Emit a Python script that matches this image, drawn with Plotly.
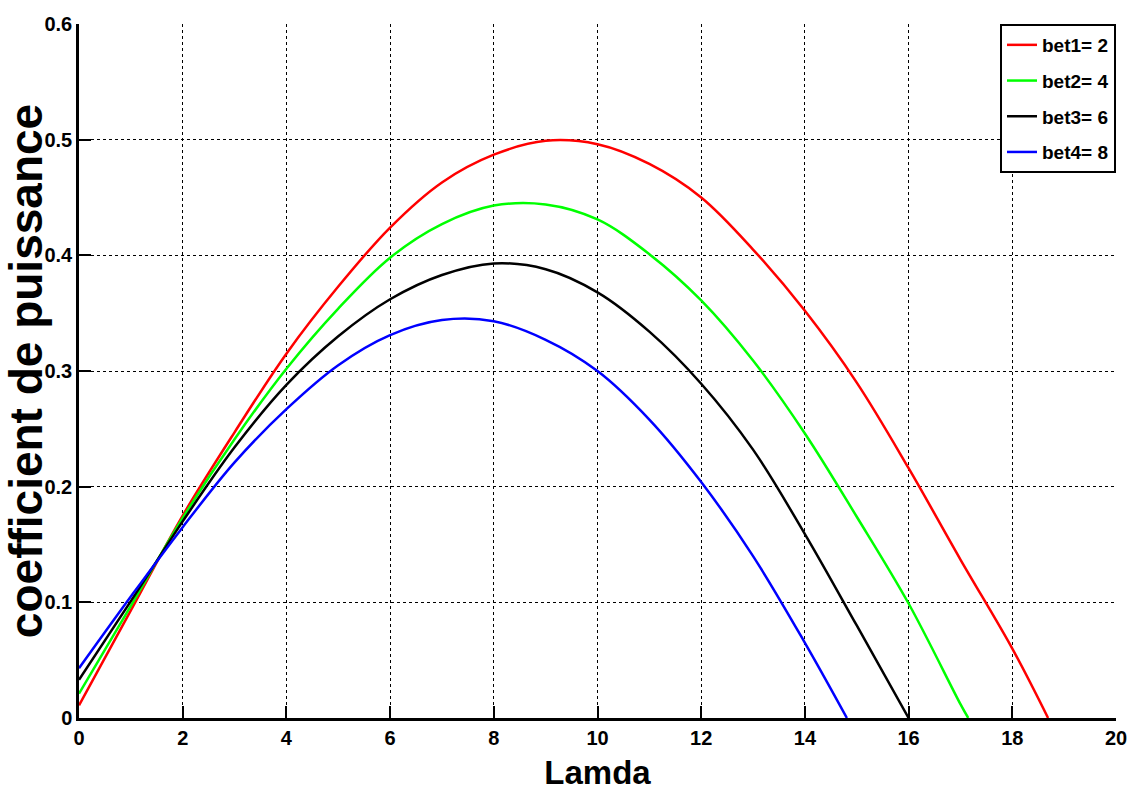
import plotly.graph_objects as go

lam_red = [0, 1, 2, 3, 4, 5, 6, 7, 8, 9, 10, 11, 12, 13, 14, 15, 16, 17, 18, 18.69]
cp_red = [0.011, 0.093, 0.175, 0.247, 0.315, 0.373, 0.424, 0.463, 0.487, 0.499, 0.496,
          0.479, 0.450, 0.405, 0.352, 0.290, 0.216, 0.137, 0.060, 0.0]

lam_green = [0, 1, 2, 3, 4, 5, 6, 7, 8, 9, 10, 11, 12, 13, 14, 15, 16, 17, 17.15]
cp_green = [0.021, 0.097, 0.173, 0.241, 0.302, 0.354, 0.398, 0.427, 0.443, 0.444, 0.431,
            0.401, 0.361, 0.309, 0.246, 0.174, 0.099, 0.012, 0.0]

lam_black = [0, 1, 2, 3, 4, 5, 6, 7, 8, 9, 10, 11, 12, 13, 14, 15, 16]
cp_black = [0.033, 0.101, 0.170, 0.234, 0.288, 0.330, 0.362, 0.383, 0.393, 0.388, 0.368,
            0.334, 0.289, 0.232, 0.159, 0.080, 0.0]

lam_blue = [0, 1, 2, 3, 4, 5, 6, 7, 8, 9, 10, 11, 12, 13, 14, 14.81]
cp_blue = [0.043, 0.105, 0.165, 0.221, 0.267, 0.305, 0.331, 0.344, 0.343, 0.327, 0.300,
           0.258, 0.204, 0.140, 0.065, 0.0]

names = ["bet1= 2", "bet2= 4", "bet3= 6", "bet4= 8"]
colors = ["#ff0000", "#00ff00", "#000000", "#0000ff"]
xs = [lam_red, lam_green, lam_black, lam_blue]
ys = [cp_red, cp_green, cp_black, cp_blue]

x_ticks = [0, 2, 4, 6, 8, 10, 12, 14, 16, 18, 20]
y_ticks = [0, 0.1, 0.2, 0.3, 0.4, 0.5, 0.6]
y_tick_text = ["0", "0.1", "0.2", "0.3", "0.4", "0.5", "0.6"]

fig = go.Figure()
for i, (x, y, n, c) in enumerate(zip(xs, ys, names, colors)):
    fig.add_trace(go.Scatter(x=x, y=y, mode="lines", name=n, legendgroup=f"g{i}",
                             line=dict(color=c, width=2.5, shape="spline", smoothing=1.0)))

font_family = "Liberation Sans, Arial, sans-serif"
fig.update_layout(
    width=1128, height=796,
    margin=dict(l=79, r=12, t=24, b=78),
    paper_bgcolor="white", plot_bgcolor="white",
    font=dict(family=font_family, color="black"),
    showlegend=True,
    legend=dict(x=1, xanchor="right", y=1, yanchor="top",
                bgcolor="white", bordercolor="black", borderwidth=2,
                font=dict(size=19, family=font_family, weight="bold", color="black"),
                tracegroupgap=8),
)
fig.update_xaxes(
    range=[0, 20], tickvals=x_ticks, ticktext=[str(v) for v in x_ticks],
    automargin=False,
    showgrid=True, gridcolor="black", griddash="3px,3px", gridwidth=1,
    showline=True, linecolor="black", linewidth=2.5,
    ticks="inside", ticklen=12, tickwidth=2, tickcolor="black",
    tickfont=dict(size=20, family=font_family, weight="bold"),
    zeroline=False,
    title=dict(text="Lamda", font=dict(size=33, family=font_family, weight="bold"), standoff=14),
)
fig.update_yaxes(
    range=[0, 0.6], tickvals=y_ticks, ticktext=y_tick_text,
    automargin=False,
    showgrid=True, gridcolor="black", griddash="3px,3px", gridwidth=1,
    showline=True, linecolor="black", linewidth=2.5,
    ticks="inside", ticklen=12, tickwidth=2, tickcolor="black",
    tickfont=dict(size=20, family=font_family, weight="bold"),
    zeroline=False,
    title=dict(text="coefficient de puissance", font=dict(size=46, family=font_family, weight="bold"), standoff=0),
)

fig.write_html("out.html", config={"displayModeBar": False},
               post_script="document.body.style.margin='0';document.body.style.overflow='hidden';")
